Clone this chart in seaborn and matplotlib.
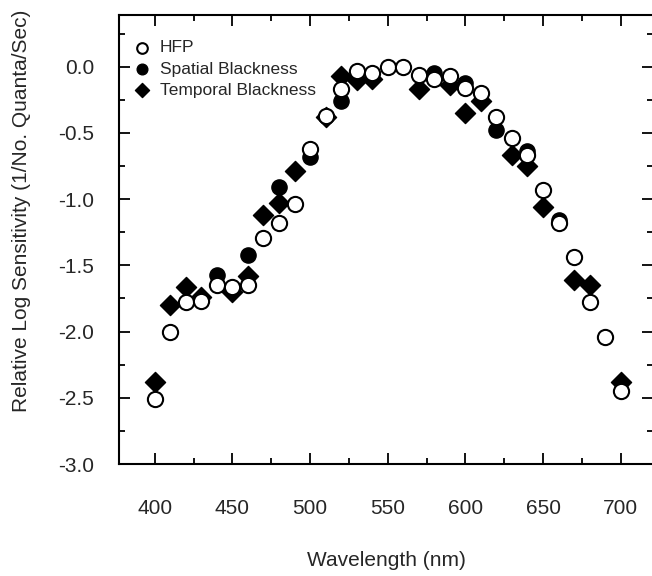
import numpy as np
import pandas as pd
import matplotlib
matplotlib.use("Agg")
import matplotlib.pyplot as plt
from matplotlib.ticker import MultipleLocator
import seaborn as sns

# HFP (open circles)
hfp_wl = [400, 410, 420, 430, 440, 450, 460, 470, 480, 490, 500, 510, 520, 530, 540,
          550, 560, 570, 580, 590, 600, 610, 620, 630, 640, 650, 660, 670, 680, 690, 700]
hfp_val = [-2.51, -2.00, -1.78, -1.77, -1.65, -1.66, -1.65, -1.29, -1.18, -1.04, -0.62,
           -0.37, -0.17, -0.03, -0.05, 0.00, 0.00, -0.06, -0.09, -0.07, -0.16, -0.20,
           -0.38, -0.54, -0.67, -0.93, -1.18, -1.44, -1.78, -2.04, -2.45]

# Spatial Blackness (filled circles)
spatial_wl = [440, 460, 480, 500, 520, 580, 600, 620, 640, 660]
spatial_val = [-1.57, -1.42, -0.91, -0.68, -0.26, -0.05, -0.12, -0.48, -0.64, -1.16]

# Temporal Blackness (filled diamonds)
temporal_wl = [400, 410, 420, 430, 450, 460, 470, 480, 490, 510, 520, 530, 540, 570,
               590, 600, 610, 630, 640, 650, 670, 680, 700]
temporal_val = [-2.38, -1.80, -1.66, -1.74, -1.70, -1.58, -1.12, -1.03, -0.79, -0.38,
                -0.07, -0.10, -0.09, -0.17, -0.14, -0.35, -0.26, -0.67, -0.75, -1.06,
                -1.61, -1.65, -2.38]

sns.set_style("ticks")
plt.rcParams['font.family'] = ['Liberation Sans', 'DejaVu Sans']
plt.rcParams['axes.unicode_minus'] = False

fig = plt.figure(figsize=(6.52, 5.76), dpi=100)
ax = fig.add_axes([119 / 652, 1 - 464 / 576, 1 - 119 / 652 + 0.002, (464 - 15) / 576])

hfp = pd.DataFrame({"wl": hfp_wl, "val": hfp_val})
spatial = pd.DataFrame({"wl": spatial_wl, "val": spatial_val})
temporal = pd.DataFrame({"wl": temporal_wl, "val": temporal_val})

sns.scatterplot(data=hfp, x="wl", y="val", ax=ax, marker="o", s=120,
                facecolor="white", edgecolor="black", linewidth=1.5,
                label="HFP", zorder=4)
sns.scatterplot(data=spatial, x="wl", y="val", ax=ax, marker="o", s=120,
                color="black", edgecolor="black", linewidth=1,
                label="Spatial Blackness", zorder=3)
sns.scatterplot(data=temporal, x="wl", y="val", ax=ax, marker="D", s=105,
                color="black", edgecolor="black", linewidth=1,
                label="Temporal Blackness", zorder=3)

ax.set_xlim(377, 721)
ax.set_ylim(-3.0, 0.39)
ax.xaxis.set_major_locator(MultipleLocator(50))
ax.xaxis.set_minor_locator(MultipleLocator(25))
ax.yaxis.set_major_locator(MultipleLocator(0.5))
ax.yaxis.set_minor_locator(MultipleLocator(0.25))
ax.yaxis.set_major_formatter(plt.FormatStrFormatter("%.1f"))

ax.tick_params(which="both", direction="in", top=True, right=True, width=1.3, color="black")
ax.tick_params(which="major", length=8)
ax.tick_params(which="minor", length=4)
ax.tick_params(axis="x", which="major", pad=25, labelsize=15)
ax.tick_params(axis="y", which="major", pad=18, labelsize=15)

for sp in ax.spines.values():
    sp.set_linewidth(1.5)
    sp.set_color("black")

ax.set_xlabel("Wavelength (nm)", fontsize=15, labelpad=24)
ax.set_ylabel("Relative Log Sensitivity (1/No. Quanta/Sec)", fontsize=15)
ax.yaxis.set_label_coords(-0.164, 0.563)

leg = ax.legend(loc="upper left", bbox_to_anchor=(-0.006, 0.971), frameon=False, fontsize=12.5,
                handletextpad=0.23, handlelength=1.6, labelspacing=0.35, borderaxespad=0.3,
                markerscale=0.7)

fig.savefig("out.png", dpi=100)
